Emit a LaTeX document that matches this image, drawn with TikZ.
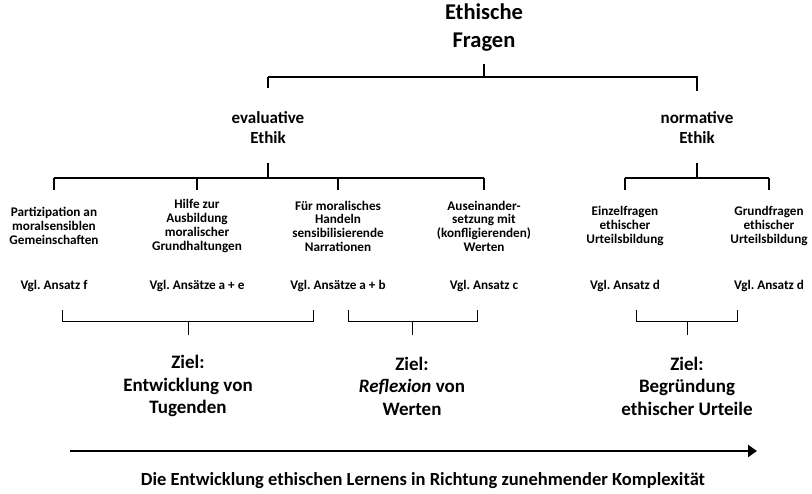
\documentclass[tikz,border=0pt]{standalone}
\usepackage{fontspec}
\setmainfont{Carlito}
\usetikzlibrary{arrows.meta}
\frenchspacing

\begin{document}
\begin{tikzpicture}[x=1pt,y=-1pt,
		titel/.style={align=center,inner sep=0pt,font=\bfseries\fontsize{22.5}{28}\selectfont},
		ethik/.style={align=center,inner sep=0pt,font=\bfseries\fontsize{17}{20}\selectfont},
		blatt/.style={align=center,inner sep=0pt,font=\bfseries\fontsize{13.2}{13.7}\selectfont},
		ziel/.style={align=center,inner sep=0pt,font=\bfseries\fontsize{19}{22.5}\selectfont},
		baum/.style={line width=1.3pt},
		klammer/.style={line width=0.8pt},
		pfeil/.style={line width=2.2pt,-{Triangle[length=9pt,width=12pt]}}]
		\useasboundingbox (0,0) rectangle (812,494);
		%Knoten
		\node[titel] (fragen) at (484,28) {Ethische\\Fragen};
		\node[ethik] (eval) at (268,128) {evaluative\\Ethik};
		\node[ethik] (norm) at (697,128) {normative\\Ethik};
		\node[blatt] (p1) at (54,226) {Partizipation an\\moralsensiblen\\Gemeinschaften};
		\node[blatt] (p2) at (197,226) {Hilfe zur\\Ausbildung\\moralischer\\Grundhaltungen};
		\node[blatt] (p3) at (338,226) {Für moralisches\\Handeln\\sensibilisierende\\Narrationen};
		\node[blatt] (p4) at (484,226) {Auseinander-\\setzung mit\\(konfligierenden)\\Werten};
		\node[blatt] (p5) at (625,226) {Einzelfragen\\ethischer\\Urteilsbildung};
		\node[blatt] (p6) at (769,226) {Grundfragen\\ethischer\\Urteilsbildung};
		\node[blatt] (v1) at (54,286) {Vgl. Ansatz f};
		\node[blatt] (v2) at (197,286) {Vgl. Ansätze a + e};
		\node[blatt] (v3) at (338,286) {Vgl. Ansätze a + b};
		\node[blatt] (v4) at (484,286) {Vgl. Ansatz c};
		\node[blatt] (v5) at (625,286) {Vgl. Ansatz d};
		\node[blatt] (v6) at (769,286) {Vgl. Ansatz d};
		\node[ziel] (z1) at (188,386) {Ziel:\\Entwicklung von\\Tugenden};
		\node[ziel] (z2) at (412,386) {Ziel:\\\textit{Reflexion} von\\Werten};
		\node[ziel] (z3) at (687,386) {Ziel:\\Begründung\\ethischer Urteile};
		\node[ziel,font=\bfseries\fontsize{18.5}{20}\selectfont] (lernen) at (423,481)
			{Die Entwicklung ethischen Lernens in Richtung zunehmender Komplexität};
		%Baum
		\coordinate (f-bar) at (484,77);
		\coordinate (e-bar) at (268,178);
		\coordinate (n-bar) at (697,178);
		\draw[baum] (fragen.south |- f-bar) -- ++(0,-13);
		\draw[baum] (eval.north |- f-bar) -- ++(0,11) (eval.north |- f-bar) -- (norm.north |- f-bar) -- ++(0,14);
		\draw[baum] (eval.south |- e-bar) -- ++(0,-15);
		\draw[baum] (norm.south |- n-bar) -- ++(0,-15);
		\draw[baum] (p1.north |- e-bar) -- (p4.north |- e-bar);
		\draw[baum] (p5.north |- n-bar) -- (p6.north |- n-bar);
		\foreach \k in {p1,p2,p3,p4,p5,p6}
			\draw[baum] (\k.north |- e-bar) -- ++(0,12);
		%Klammern
		\coordinate (k1) at (188,321);
		\coordinate (k2) at (412,321);
		\coordinate (k3) at (687,321);
		\draw[klammer] (62,310) -- (62,321) -- (313,321) -- (313,310);
		\draw[klammer] (348,310) -- (348,321) -- (477,321) -- (477,310);
		\draw[klammer] (636,310) -- (636,321) -- (737,321) -- (737,310);
		\foreach \k in {1,2,3}
			\draw[klammer] (k\k) -- ++(0,14);
		%Pfeil
		\coordinate (p-start) at (70,451);
		\coordinate (p-ende) at (757,451);
		\draw[pfeil] (p-start) -- (p-ende);
	\end{tikzpicture}
\end{document}
